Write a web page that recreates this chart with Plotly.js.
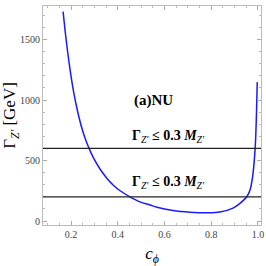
<!DOCTYPE html>
<html><head><meta charset="utf-8">
<script src="https://cdn.plot.ly/plotly-3.0.1.min.js"></script>
<style>html,body{margin:0;padding:0;background:#fff}#chart{width:266px;height:266px}</style>
</head><body><div id="chart"></div>
<script>
const cphi = [0.166,0.179,0.195,0.208,0.221,0.235,0.249,0.264,0.279,0.296,0.324,0.354,0.380,0.410,0.452,0.495,0.538,0.568,0.636,0.709,0.782,0.837,0.893,0.923,0.952,0.966,0.977,0.988,0.994,0.997];
const widthZ = [1731,1500,1261,1100,969,849,750,663,592,522,430,352,298,250,200,158,132,113,87,73,68,74,107,146,200,256,365,602,915,1148];
const boundLevels = [600, 200];
const boundLabel = "<b>Γ</b><sub><i>Z'</i></sub><b> ≤ 0.3 </b><b><i>M</i></b><sub><i>Z'</i></sub>";
const panelLabel = "<b>(a)NU</b>";
const xRange = [0.08, 1.013];
const yRange = [-33, 1777];

const serif = 'Liberation Serif, Times New Roman, serif';
const traces = [{
  x: cphi, y: widthZ, type: 'scatter', mode: 'lines',
  line: {color: '#1a1aff', width: 1.5, shape: 'spline', smoothing: 1}, hoverinfo: 'skip'
}];
const shapes = boundLevels.map(v => ({
  type: 'line', xref: 'paper', x0: 0, x1: 1, yref: 'y', y0: v, y1: v,
  line: {color: '#222', width: 1.3}
}));
const annotations = [
  {x: 0.552, y: 997, xref: 'x', yref: 'y', text: panelLabel, showarrow: false,
   font: {family: serif, size: 15, color: '#000'}},
  {x: 0.615, y: 700, xref: 'x', yref: 'y', text: boundLabel, showarrow: false,
   font: {family: serif, size: 14, color: '#000'}},
  {x: 0.615, y: 318, xref: 'x', yref: 'y', text: boundLabel, showarrow: false,
   font: {family: serif, size: 14, color: '#000'}}
];
const tickFont = {family: serif, size: 10, color: '#444'};
const layout = {
  width: 266, height: 266,
  margin: {l: 43, r: 5, t: 6, b: 41},
  paper_bgcolor: '#fff', plot_bgcolor: '#fff',
  showlegend: false,
  xaxis: {
    range: xRange, tickvals: [0.2,0.4,0.6,0.8,1.0], ticktext: ['0.2','0.4','0.6','0.8','1.0'],
    ticks: 'inside', ticklen: 4, tickcolor: '#aaa', tickwidth: 1,
    minor: {dtick: 0.05, ticks: 'inside', ticklen: 2, tickcolor: '#bbb'},
    showgrid: false, zeroline: false, showline: true, linecolor: '#bbb', linewidth: 1, mirror: 'allticks',
    tickfont: tickFont,
    title: {text: '<i>c</i><sub><i>ϕ</i></sub>', font: {family: serif, size: 17, color: '#000'}, standoff: 8}
  },
  yaxis: {
    range: yRange, tickvals: [0,500,1000,1500], ticktext: ['0','500','1000','1500'],
    ticks: 'inside', ticklen: 4, tickcolor: '#aaa', tickwidth: 1,
    minor: {dtick: 100, ticks: 'inside', ticklen: 2, tickcolor: '#bbb'},
    showgrid: false, zeroline: false, showline: true, linecolor: '#bbb', linewidth: 1, mirror: 'allticks',
    tickfont: tickFont,
    title: {text: "Γ<sub><i>Z'</i></sub> [GeV]", font: {family: serif, size: 17, color: '#000'}, standoff: 3}
  },
  shapes: shapes,
  annotations: annotations
};
Plotly.newPlot('chart', traces, layout, {displayModeBar: false, staticPlot: true});
</script></body></html>
